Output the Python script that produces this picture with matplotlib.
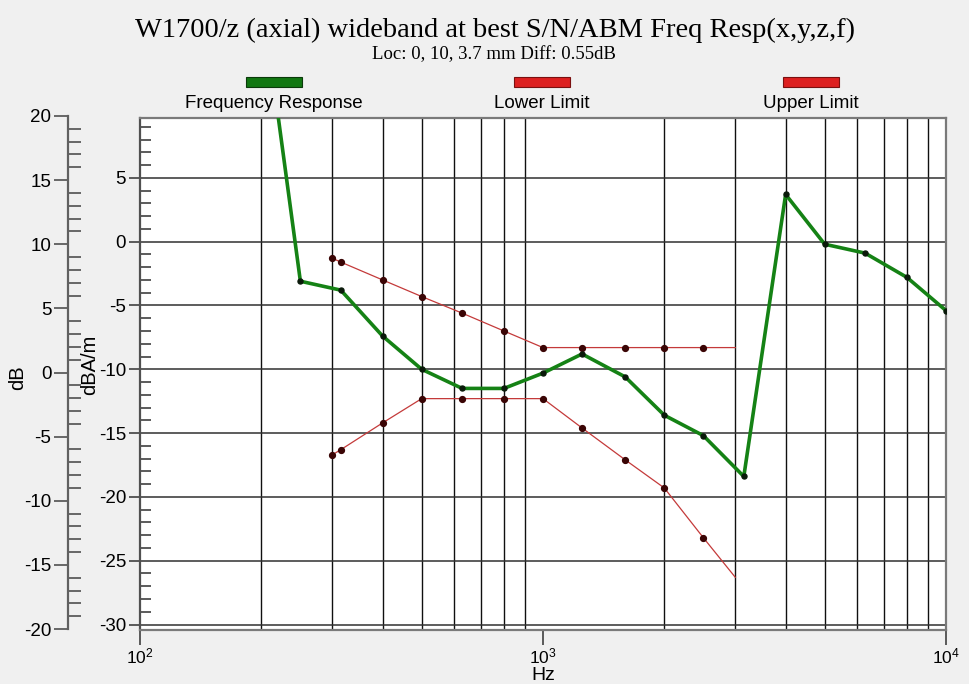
import matplotlib
matplotlib.use("Agg")
import matplotlib.pyplot as plt
from matplotlib.patches import Rectangle
from matplotlib.ticker import FixedLocator, MultipleLocator, NullLocator

# Measured response (dBA/m) at 1/3-octave centres
freq_hz = [200, 250, 315, 400, 500, 630, 800, 1000, 1250, 1600, 2000, 2500,
           3150, 4000, 5000, 6300, 8000, 10000]
response_db = [19.6, -3.1, -3.8, -7.4, -10.0, -11.5, -11.5, -10.3, -8.8, -10.6,
               -13.6, -15.2, -18.4, 3.7, -0.2, -0.9, -2.8, -5.4]

# Tolerance mask
limit_hz = [300, 315, 400, 500, 630, 800, 1000, 1250, 1600, 2000, 2500, 3000]
upper_db = [-1.3, -1.6, -3.0, -4.3, -5.6, -7.0, -8.3, -8.3, -8.3, -8.3, -8.3, -8.3]
lower_db = [-16.7, -16.3, -14.2, -12.3, -12.3, -12.3, -12.3, -14.6, -17.1,
            -19.3, -23.2, -26.3]

legend_labels = ["Frequency Response", "Lower Limit", "Upper Limit"]
inner_ticks = [5, 0, -5, -10, -15, -20, -25, -30]
outer_ticks = [20, 15, 10, 5, 0, -5, -10, -15, -20]
x_ticks = [100, 1000, 10000]
x_grid = [200, 300, 400, 500, 600, 700, 800, 900,
          2000, 3000, 4000, 5000, 6000, 7000, 8000, 9000]

W, H = 969, 684
plt.rcParams["font.family"] = ["Liberation Sans", "DejaVu Sans"]
plt.rcParams["mathtext.fontset"] = "custom"
plt.rcParams["mathtext.rm"] = "Liberation Sans"
plt.rcParams["mathtext.it"] = "Liberation Sans"
plt.rcParams["axes.unicode_minus"] = False

BG = "#f0f0f0"
fig = plt.figure(figsize=(W / 100, H / 100), dpi=100, facecolor=BG)


def fx(px):
    return px / W


def fy(py):
    return 1 - py / H


# main plotting area
L, R, T, B = 140, 946, 118, 630
ax = fig.add_axes([fx(L), fy(B), fx(R - L), fy(T) - fy(B)])
ax.set_facecolor("white")
ax.set_xscale("log")
ax.set_xlim(100, 10000)
ax.set_ylim(-30.43, 9.69)

for f in x_grid:
    ax.axvline(f, color="#101010", lw=1.0, zorder=1)
for v in inner_ticks:
    ax.axhline(v, color="#303030", lw=1.1, zorder=1)

ax.plot(limit_hz, upper_db, color="#c43a3a", lw=0.9, zorder=3,
        marker="o", ms=4.2, mfc="#3a0505", mec="#3a0505",
        markevery=slice(0, len(limit_hz) - 1))
ax.plot(limit_hz, lower_db, color="#c43a3a", lw=0.9, zorder=3,
        marker="o", ms=4.2, mfc="#3a0505", mec="#3a0505",
        markevery=slice(0, len(limit_hz) - 1))
ax.plot(freq_hz, response_db, color="#158215", lw=2.6, zorder=4,
        marker="o", ms=3.6, mfc="#0a1a0a", mec="#0a1a0a")

ax.xaxis.set_major_locator(FixedLocator(x_ticks))
ax.xaxis.set_minor_locator(NullLocator())
ax.set_xticklabels([r"$\mathregular{10^{2}}$", r"$\mathregular{10^{3}}$",
                    r"$\mathregular{10^{4}}$"], fontsize=12.5)
ax.tick_params(axis="x", which="major", direction="out", length=11,
               width=1.2, color="#404040", pad=1)

ax.yaxis.set_major_locator(FixedLocator(inner_ticks))
ax.yaxis.set_minor_locator(MultipleLocator(1))
ax.tick_params(axis="y", which="major", direction="out", length=8,
               width=1.2, color="#404040", labelsize=13.5, pad=2)
ax.tick_params(axis="y", which="minor", direction="in", length=8,
               width=1.2, color="#404040")
for s in ax.spines.values():
    s.set_color("#7a7a7a")
    s.set_linewidth(1.6)
ax.spines["left"].set_color("#505050")

# secondary dB scale at the far left
ax2 = fig.add_axes([fx(68), fy(629), 0.0001, fy(116) - fy(629)])
ax2.set_ylim(-20, 20)
ax2.set_xticks([])
for k in ("top", "right", "bottom"):
    ax2.spines[k].set_visible(False)
ax2.spines["left"].set_color("#606060")
ax2.spines["left"].set_linewidth(1.6)
ax2.patch.set_visible(False)
ax2.yaxis.set_major_locator(FixedLocator(outer_ticks))
ax2.yaxis.set_minor_locator(MultipleLocator(1))
ax2.tick_params(axis="y", which="major", direction="out", length=10,
                width=1.2, color="#505050", labelsize=13.5, pad=2)
ax2.tick_params(axis="y", which="minor", direction="in", length=9,
                width=1.2, color="#505050")

fig.text(fx(18), fy(378), "dB", rotation=90, ha="center", va="center",
         fontsize=14.5)
fig.text(fx(90), fy(365), "dBA/m", rotation=90, ha="center", va="center",
         fontsize=14.5)
fig.text(fx(543), fy(676), "Hz", ha="center", va="center", fontsize=14)

# titles
fig.text(fx(495), fy(30), "W1700/z (axial) wideband at best S/N/ABM Freq Resp(x,y,z,f)",
         ha="center", va="center", fontsize=20.5, family="Liberation Serif")
fig.text(fx(494), fy(55), "Loc: 0, 10, 3.7 mm Diff: 0.55dB",
         ha="center", va="center", fontsize=13.5, family="Liberation Serif")

# legend swatches with captions underneath
swatch_x = [246, 514, 783]
swatch_col = ["#117711", "#dd2020", "#dd2020"]
swatch_edge = ["#0a3a0a", "#7a1010", "#7a1010"]
for x0, c, e, lab in zip(swatch_x, swatch_col, swatch_edge, legend_labels):
    fig.patches.append(Rectangle((fx(x0), fy(87)), fx(56), fy(77) - fy(87),
                                 transform=fig.transFigure, facecolor=c,
                                 edgecolor=e, lw=0.8))
    fig.text(fx(x0 + 28), fy(104), lab, ha="center", va="center", fontsize=13.5)

fig.savefig("out.png", dpi=100, facecolor=BG)
